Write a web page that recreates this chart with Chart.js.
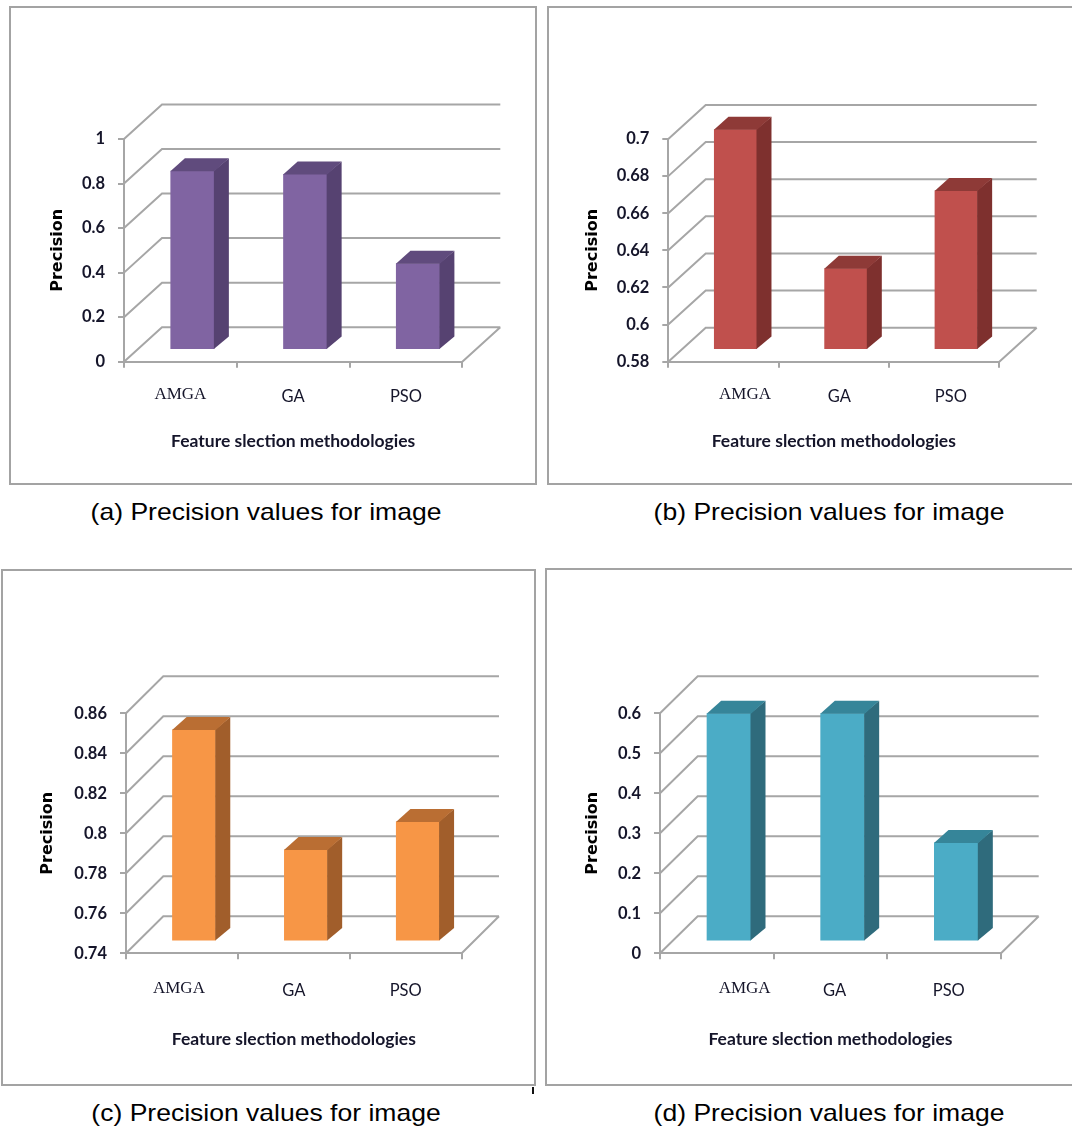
<!DOCTYPE html>
<html>
<head>
<meta charset="utf-8">
<script src="https://cdn.jsdelivr.net/npm/chart.js@4.4.1/dist/chart.umd.min.js"></script>
<style>
  html, body { margin: 0; padding: 0; background: #fff; width: 1072px; height: 1129px; overflow: hidden; position: relative; }
  .frame { position: absolute; box-sizing: border-box; border: 2px solid #a3a3a3; background: #fff; }
  canvas { position: absolute; }
  .cap { position: absolute; width: 600px; text-align: center; font-family: 'Liberation Sans', Arial, sans-serif; font-size: 24px; line-height: 28px; color: #000; transform: scaleX(1.105); white-space: nowrap; }
  .mark { position: absolute; left: 532px; top: 1087px; width: 2px; height: 7px; background: #111; }
</style>
</head>
<body>
<div class="frame" style="left:9px;top:6px;width:528px;height:479px"></div>
<div class="frame" style="left:547px;top:6px;width:600px;height:479px"></div>
<div class="frame" style="left:1px;top:569px;width:535px;height:517px"></div>
<div class="frame" style="left:545px;top:568px;width:600px;height:518px"></div>
<canvas id="cA" width="528" height="479" style="left:9px;top:6px"></canvas>
<canvas id="cB" width="525" height="479" style="left:547px;top:6px"></canvas>
<canvas id="cC" width="535" height="517" style="left:1px;top:569px"></canvas>
<canvas id="cD" width="527" height="518" style="left:545px;top:568px"></canvas>
<div class="cap" style="left:-34px;top:498px">(a) Precision values for image</div>
<div class="cap" style="left:529px;top:498px">(b) Precision values for image</div>
<div class="cap" style="left:-34px;top:1099px">(c) Precision values for image</div>
<div class="cap" style="left:529px;top:1099px">(d) Precision values for image</div>
<div class="mark"></div>
<script>
// ---------- DATA ----------
const categories = ['AMGA', 'GA', 'PSO'];
const precisionA = [0.805, 0.79, 0.39];
const precisionB = [0.699, 0.624, 0.666];
const precisionC = [0.846, 0.786, 0.800];
const precisionD = [0.571, 0.571, 0.248];
const ticksA = [0, 0.2, 0.4, 0.6, 0.8, 1];
const ticksB = [0.58, 0.6, 0.62, 0.64, 0.66, 0.68, 0.7];
const ticksC = [0.74, 0.76, 0.78, 0.8, 0.82, 0.84, 0.86];
const ticksD = [0, 0.1, 0.2, 0.3, 0.4, 0.5, 0.6];
const yTitle = 'Precision';
const xTitle = 'Feature slection methodologies';

// ---------- 3D plugin ----------
const threeD = {
  id: 'threeD',
  beforeDraw(chart, args, o) {
    const xs = chart.scales.x;
    const items = xs.getLabelItems();
    items.forEach((it, i) => {
      const tr = it.options.translation;
      if (!tr._shifted) { tr[0] += (o.labelShift[i] || 0); tr._shifted = true; }
    });
  },
  beforeDatasetsDraw(chart, args, o) {
    const { ctx, chartArea: a, scales: { y } } = chart;
    ctx.save();
    ctx.strokeStyle = o.lineColor;
    ctx.lineWidth = o.lineWidth;
    ctx.beginPath();
    y.ticks.forEach(t => {
      const py = y.getPixelForValue(t.value);
      ctx.moveTo(a.left, py);
      ctx.lineTo(a.left + o.dx, py + o.dy);
      ctx.lineTo(a.right + o.dx, py + o.dy);
    });
    ctx.moveTo(a.right, a.bottom);
    ctx.lineTo(a.right + o.dx, a.bottom + o.dy);
    ctx.stroke();
    ctx.restore();
  },
  beforeDatasetDraw(chart, args, o) {
    chart.ctx.save();
    chart.ctx.translate(o.bx, o.by);
  },
  afterDatasetDraw(chart, args, o) {
    const ctx = chart.ctx;
    args.meta.data.forEach(el => {
      const { x, y, base, width } = el.getProps(['x', 'y', 'base', 'width'], true);
      const l = x - width / 2, r = x + width / 2;
      ctx.fillStyle = o.side;
      ctx.beginPath();
      ctx.moveTo(r - 0.5, y);
      ctx.lineTo(r + o.ddx, y - o.ddy);
      ctx.lineTo(r + o.ddx, base - o.ddy);
      ctx.lineTo(r - 0.5, base);
      ctx.closePath();
      ctx.fill();
      ctx.fillStyle = o.top;
      ctx.beginPath();
      ctx.moveTo(l, y + 0.5);
      ctx.lineTo(l + o.ddx, y - o.ddy);
      ctx.lineTo(r + o.ddx, y - o.ddy);
      ctx.lineTo(r, y + 0.5);
      ctx.closePath();
      ctx.fill();
    });
    ctx.restore();
  }
};

const GRID = '#a6a6a6';

function makeChart(id, values, ticks, cfg) {
  const canvas = document.getElementById(id);
  const W = canvas.width, H = canvas.height;
  const a = cfg.area;
  return new Chart(canvas, {
    type: 'bar',
    data: {
      labels: categories,
      datasets: [{
        data: values,
        base: ticks[0],
        backgroundColor: cfg.front,
        borderWidth: 0,
        barPercentage: 0.39,
        categoryPercentage: 1,
        clip: false
      }]
    },
    options: {
      responsive: false,
      animation: false,
      devicePixelRatio: 1,
      layout: { padding: { left: 0, top: a.top, right: W - a.right, bottom: 0 } },
      plugins: {
        legend: { display: false },
        tooltip: { enabled: false },
        threeD: {
          dx: cfg.dx, dy: cfg.dy, bx: 12, by: -11.7, ddx: 14.5, ddy: 12.5,
          side: cfg.side, top: cfg.top, lineColor: GRID, lineWidth: 2,
          labelShift: cfg.labelShift
        }
      },
      scales: {
        x: {
          grid: { drawOnChartArea: false, tickLength: 6, color: GRID, lineWidth: 2, offset: true },
          border: { color: GRID, width: 2 },
          ticks: {
            padding: cfg.xPad,
            color: '#15152a',
            maxRotation: 0,
            font: (c) => c.index === 0
              ? { family: "'Liberation Serif', 'Times New Roman', serif", size: 17, lineHeight: 1.2 }
              : { family: "Lato, sans-serif", size: 16.5, lineHeight: 1.45 }
          },
          title: {
            display: true, text: xTitle, color: '#15152a',
            font: { family: "Lato, sans-serif", size: 17.5, weight: 'bold', lineHeight: 1.2 },
            padding: { top: 0, bottom: H - cfg.xTitleY - 10.5 }
          },
          afterFit: (s) => { s.height = H - a.bottom; }
        },
        y: {
          min: ticks[0],
          max: ticks[ticks.length - 1],
          afterBuildTicks: (s) => { s.ticks = ticks.map(v => ({ value: v })); },
          grid: { drawOnChartArea: false, tickLength: 6, color: GRID, lineWidth: 2 },
          border: { color: GRID, width: 2 },
          ticks: {
            padding: 13, color: '#15152a',
            font: { family: "Lato, sans-serif", size: 16.5, weight: 'bold' },
            callback: (v) => String(v)
          },
          title: {
            display: true, text: yTitle, color: '#000',
            font: { family: "'DejaVu Sans', sans-serif", size: 16, weight: 'bold', lineHeight: 1.2 },
            padding: { top: cfg.yTitleX - 9.6, bottom: 0 }
          },
          afterFit: (s) => { s.width = a.left; }
        }
      }
    },
    plugins: [threeD]
  });
}

makeChart('cA', precisionA, ticksA, {
  area: { left: 115, top: 133, right: 453.3, bottom: 355.7 },
  dx: 38, dy: -34.5, front: '#8064a2', side: '#564271', top: '#604b7d',
  yTitleX: 49, xPad: 17, xTitleY: 435, labelShift: [0, 0, 0]
});
makeChart('cB', precisionB, ticksB, {
  area: { left: 121.3, top: 133, right: 452.3, bottom: 355.7 },
  dx: 37.4, dy: -34, front: '#c0504d', side: '#7e302e', top: '#8e3a37',
  yTitleX: 46, xPad: 17, xTitleY: 435, labelShift: [21.5, 5.5, 6.7]
});
makeChart('cC', precisionC, ticksC, {
  area: { left: 125, top: 144.3, right: 460.7, bottom: 384.3 },
  dx: 37.3, dy: -37, front: '#f79646', side: '#a15e2b', top: '#ba6e33',
  yTitleX: 47, xPad: 19.5, xTitleY: 470, labelShift: [-3, 0, 0]
});
makeChart('cD', precisionD, ticksD, {
  area: { left: 115, top: 145.3, right: 456, bottom: 385.3 },
  dx: 37.7, dy: -37, front: '#4bacc6', side: '#2f6b7c', top: '#368599',
  yTitleX: 48, xPad: 19.5, xTitleY: 471, labelShift: [27.8, 4, 4.6]
});
</script>
</body>
</html>
